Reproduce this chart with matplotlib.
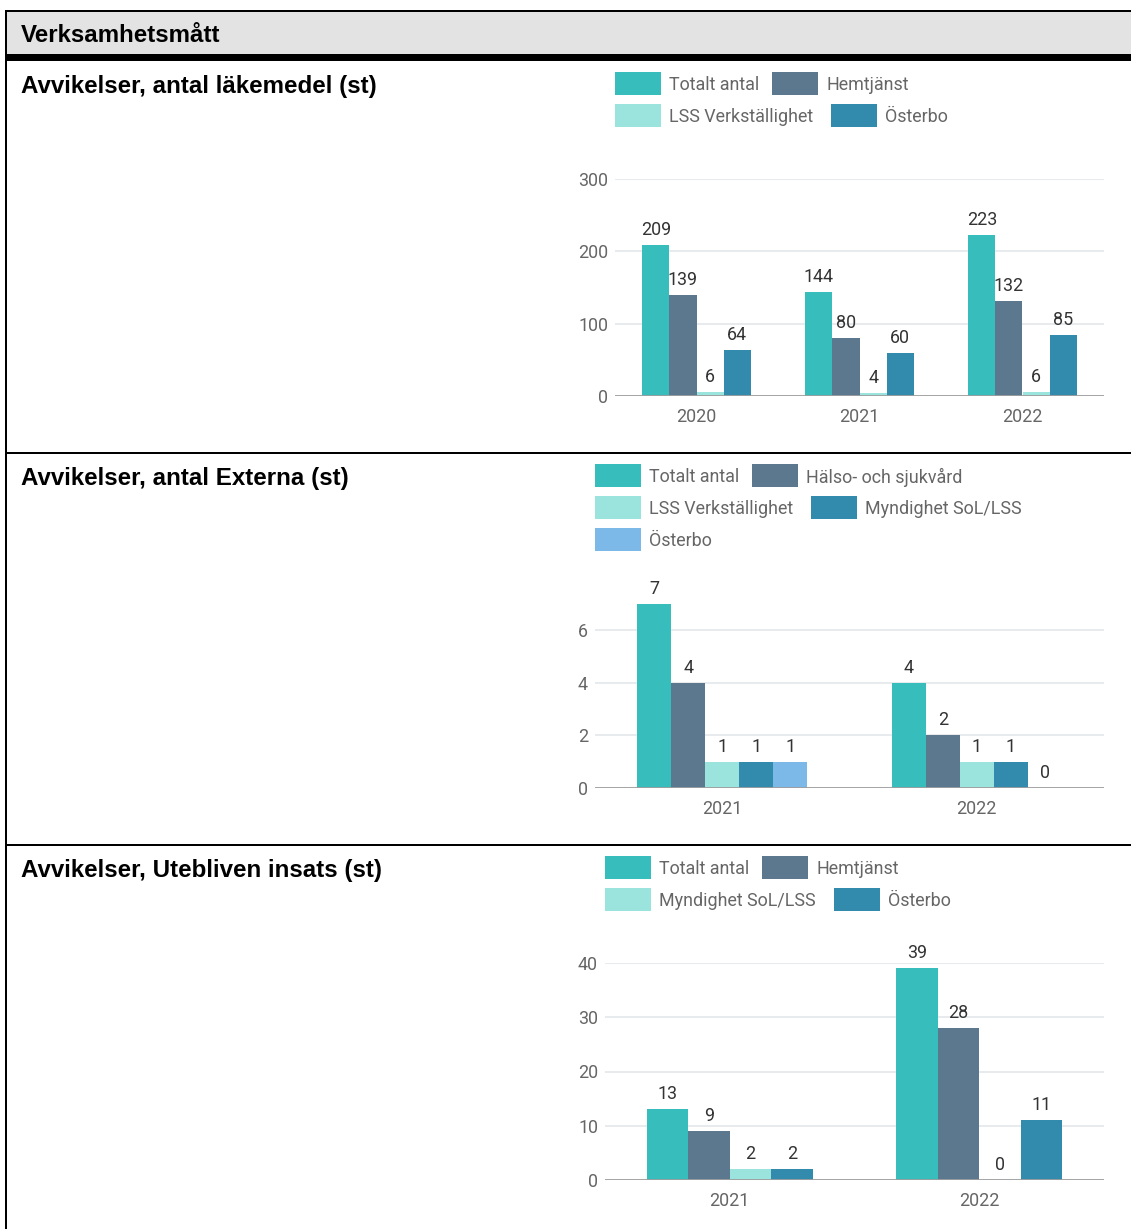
import matplotlib
matplotlib.use("Agg")
import matplotlib.pyplot as plt
from matplotlib.patches import Rectangle

W, H = 1131, 1229

# ---------------- data ----------------
header_title = "Verksamhetsmått"

title1 = "Avvikelser, antal läkemedel (st)"
cats1 = ["2020", "2021", "2022"]
names1 = ["Totalt antal", "Hemtjänst", "LSS Verkställighet", "Österbo"]
totalt1 = [209, 144, 223]
hemtjanst1 = [139, 80, 132]
lss1 = [6, 4, 6]
osterbo1 = [64, 60, 85]
ticks1 = [0, 100, 200, 300]

title2 = "Avvikelser, antal Externa (st)"
cats2 = ["2021", "2022"]
names2 = ["Totalt antal", "Hälso- och sjukvård", "LSS Verkställighet",
          "Myndighet SoL/LSS", "Österbo"]
totalt2 = [7, 4]
halso2 = [4, 2]
lss2 = [1, 1]
myndighet2 = [1, 1]
osterbo2 = [1, 0]
ticks2 = [0, 2, 4, 6]

title3 = "Avvikelser, Utebliven insats (st)"
cats3 = ["2021", "2022"]
names3 = ["Totalt antal", "Hemtjänst", "Myndighet SoL/LSS", "Österbo"]
totalt3 = [13, 39]
hemtjanst3 = [9, 28]
myndighet3 = [2, 0]
osterbo3 = [2, 11]
ticks3 = [0, 10, 20, 30, 40]

# ---------------- style ----------------
TEAL = "#37bdbb"
SLATE = "#5c788f"
MINT = "#9be4dd"
BLUE = "#328bad"
LBLUE = "#7db9e8"

TITLE_FONT = "Liberation Sans"
CHART_FONT = "Roboto"
FS_CHART = 12.9
FS_TITLE = 17.4
TICK_COLOR = "#666666"
VALUE_COLOR = "#333333"
LEGEND_COLOR = "#666666"
GRID_COLOR = "#e7ebee"
BASE_COLOR = "#9e9e9e"

fig = plt.figure(figsize=(W / 100, H / 100), dpi=100)
fig.patch.set_facecolor("white")


def fx(x):
    return x / W


def fy(y):
    return 1 - y / H


def rect_px(x0, y0, x1, y1, color, z=5):
    fig.patches.append(Rectangle((fx(x0), fy(y1)), (x1 - x0) / W, (y1 - y0) / H,
                                 transform=fig.transFigure, facecolor=color,
                                 edgecolor="none", zorder=z))


# ---------------- table frame ----------------
rect_px(7, 12, W, 54, "#e3e3e3", z=1)
rect_px(5, 10, W, 12, "black")
rect_px(5, 10, 7, H, "black")
rect_px(5, 54, W, 61, "black")
rect_px(5, 452, W, 454, "black")
rect_px(5, 844, W, 846, "black")

fig.text(fx(21), fy(33), header_title, fontfamily=TITLE_FONT, fontweight="bold",
         fontsize=FS_TITLE, va="center_baseline", ha="left", color="black")

for t, yy in [(title1, 83.5), (title2, 475.5), (title3, 867.5)]:
    fig.text(fx(21), fy(yy), t, fontfamily=TITLE_FONT, fontweight="bold",
             fontsize=FS_TITLE, va="center_baseline", ha="left", color="black")


# ---------------- charts ----------------
def draw_chart(x0, x1, y_zero, y_top, ymax, cats, series, names, colors, ticks,
               legend_pos):
    ax = fig.add_axes([fx(x0), fy(y_zero), (x1 - x0) / W, (y_zero - y_top) / H])
    ax.set_facecolor("none")
    ng = len(cats)
    ns = len(series)
    w = (2 / 3) / ns
    for j, (vals, col) in enumerate(zip(series, colors)):
        xs = [i + 0.5 + (j - (ns - 1) / 2) * w for i in range(ng)]
        ax.bar(xs, vals, width=w, color=col, zorder=3, linewidth=0)
        for xv, v in zip(xs, vals):
            ax.annotate(str(v), (xv, v), xytext=(0, 10.8), textcoords="offset points",
                        ha="center", va="center", fontfamily=CHART_FONT,
                        fontsize=FS_CHART, color=VALUE_COLOR, zorder=5,
                        annotation_clip=False)
    ax.set_xlim(0, ng)
    ax.set_ylim(0, ymax)
    ax.set_yticks(ticks)
    ax.set_yticklabels([str(t) for t in ticks])
    ax.set_xticks([i + 0.5 for i in range(ng)])
    ax.set_xticklabels(cats)
    for t in ticks[1:]:
        ax.axhline(t, color=GRID_COLOR, linewidth=1.4, zorder=1)
    ax.axhline(0, color=BASE_COLOR, linewidth=1.3, zorder=4)
    for s in ax.spines.values():
        s.set_visible(False)
    ax.tick_params(axis="both", length=0, labelsize=FS_CHART, colors=TICK_COLOR)
    ax.tick_params(axis="y", pad=5)
    ax.tick_params(axis="x", pad=8.8)
    for lab in ax.get_xticklabels() + ax.get_yticklabels():
        lab.set_fontfamily(CHART_FONT)
    # legend (flow layout)
    for (lx, ly), name, col in zip(legend_pos, names, colors):
        rect_px(lx, ly - 11.5, lx + 46, ly + 11.5, col, z=5)
        fig.text(fx(lx + 54), fy(ly), name, fontfamily=CHART_FONT, fontsize=FS_CHART,
                 color=LEGEND_COLOR, va="center_baseline", ha="left")
    return ax


draw_chart(615, 1104, 396, 179, 300, cats1,
           [totalt1, hemtjanst1, lss1, osterbo1], names1,
           [TEAL, SLATE, MINT, BLUE], ticks1,
           [(615, 83), (772, 83), (615, 115), (831, 115)])

y0_2 = 788
unit2 = (788 - 630) / 6
draw_chart(595, 1104, y0_2, y0_2 - 7 * unit2, 7, cats2,
           [totalt2, halso2, lss2, myndighet2, osterbo2], names2,
           [TEAL, SLATE, MINT, BLUE, LBLUE], ticks2,
           [(595, 475), (752, 475), (595, 507), (811, 507), (595, 539)])

draw_chart(605, 1104, 1180, 963, 40, cats3,
           [totalt3, hemtjanst3, myndighet3, osterbo3], names3,
           [TEAL, SLATE, MINT, BLUE], ticks3,
           [(605, 867), (762, 867), (605, 899), (834, 899)])

fig.savefig("out.png", dpi=100, facecolor="white")
